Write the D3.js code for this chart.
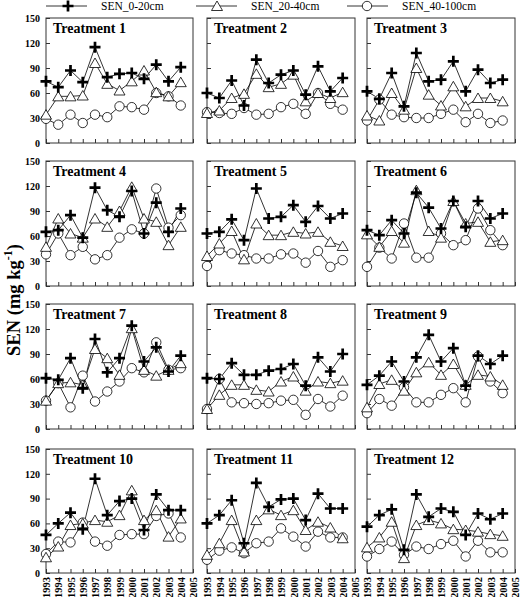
<!DOCTYPE html>
<html><head><meta charset="utf-8">
<script src="https://cdn.jsdelivr.net/npm/d3@7"></script>
<style>
html,body{margin:0;padding:0;background:#fff;}
svg{display:block;font-family:"Liberation Serif","Times New Roman",serif;}
</style></head>
<body>
<svg id="chart" width="520" height="597"></svg>
<script>
const years = [1993,1994,1995,1996,1997,1998,1999,2000,2001,2002,2003,2004];
const xTickLabels = [1993,1994,1995,1996,1997,1998,1999,2000,2001,2002,2003,2004,2005];
const yTickLabels = [0,30,60,90,120,150];
const treatments = ["Treatment 1","Treatment 2","Treatment 3","Treatment 4","Treatment 5","Treatment 6",
  "Treatment 7","Treatment 8","Treatment 9","Treatment 10","Treatment 11","Treatment 12"];
const seriesNames = ["SEN_0-20cm","SEN_20-40cm","SEN_40-100cm"];

const sen0_20 = [
  [74,67,87,73,115,79,83,84,77,94,74,91],
  [60,54,75,45,100,72,82,87,58,92,62,78],
  [62,53,84,44,108,74,76,98,62,88,72,76],
  [65,67,85,58,118,91,83,114,63,100,65,93],
  [63,65,80,55,117,81,83,97,77,96,81,87],
  [67,61,79,63,112,94,69,102,71,102,81,87],
  [61,59,85,49,108,68,85,124,81,98,69,88],
  [61,60,79,65,65,70,72,78,52,86,69,90],
  [53,64,81,57,86,113,81,97,52,88,78,88],
  [46,60,73,53,114,70,87,90,52,95,76,76],
  [60,70,88,36,109,80,89,90,64,96,78,78],
  [56,70,77,28,95,68,78,74,46,72,65,72]
];
const sen20_40 = [
  [34,56,56,57,96,71,63,74,87,61,56,73],
  [36,39,54,59,83,67,71,82,50,60,54,61],
  [33,27,60,40,90,58,45,68,44,54,54,50],
  [47,81,63,58,81,71,90,119,81,77,49,71],
  [36,51,66,32,75,61,61,65,63,65,53,48],
  [62,47,66,52,115,66,58,102,75,77,53,55],
  [34,55,56,53,96,85,65,121,71,64,71,79],
  [24,41,53,53,47,45,57,63,46,57,55,58],
  [26,54,59,46,68,80,65,78,53,65,63,53],
  [19,32,58,60,64,62,70,100,64,76,44,66],
  [22,36,64,26,64,77,70,76,52,62,55,42],
  [31,43,62,18,58,64,60,53,52,50,47,45]
];
const sen40_100 = [
  [29,22,34,24,34,31,44,43,40,60,56,45],
  [37,36,35,42,34,35,43,47,35,60,47,40],
  [27,52,34,31,30,30,35,40,25,35,24,27],
  [38,63,37,47,32,37,58,68,63,117,70,85],
  [24,43,39,37,33,33,38,39,28,42,23,31],
  [23,46,33,75,34,34,63,49,55,93,67,49],
  [34,55,26,64,33,45,57,73,68,104,71,73],
  [24,60,32,31,30,31,34,35,17,36,27,40],
  [19,36,28,50,32,32,41,49,32,87,57,43],
  [23,38,37,61,38,33,46,47,47,69,72,43],
  [16,27,31,24,36,38,54,44,32,50,43,43],
  [20,29,38,22,32,29,35,39,20,39,25,25]
];

const svg = d3.select("#chart");
const colX = [[46,193],[207,355],[367,515]];
const rowY = [[18,143],[161,286],[304,429],[449,573]];

const plusPath = "M-5.5,0H5.5M0,-5.5V5.5";
function drawMarker(g, type, x, y){
  if(type===0){
    g.append("path").attr("d",plusPath).attr("transform",`translate(${x},${y})`)
      .attr("stroke","#000").attr("stroke-width",2.7).attr("fill","none");
  } else if(type===1){
    g.append("path").attr("d","M0,-5L5.5,4.5L-5.5,4.5Z").attr("transform",`translate(${x},${y})`)
      .attr("stroke","#000").attr("stroke-width",0.8).attr("fill","#fff");
  } else {
    g.append("circle").attr("cx",x).attr("cy",y).attr("r",4.7)
      .attr("stroke","#000").attr("stroke-width",0.8).attr("fill","#fff");
  }
}

const allSeries = [sen0_20, sen20_40, sen40_100];

treatments.forEach((name,i)=>{
  const r = Math.floor(i/3), c = i%3;
  const [x0,x1] = colX[c], [y0,y1] = rowY[r];
  const x = d3.scaleLinear().domain([1993,2005]).range([x0,x1]);
  const y = d3.scaleLinear().domain([0,150]).range([y1,y0]);
  const g = svg.append("g");
  g.append("rect").attr("x",x0).attr("y",y0).attr("width",x1-x0).attr("height",y1-y0)
    .attr("fill","none").attr("stroke","#333").attr("stroke-width",1);
  const xa = d3.axisBottom(x).tickValues(xTickLabels).tickSize(-4).tickFormat(r===3?d3.format("d"):"");
  const xg = g.append("g").attr("transform",`translate(0,${y1})`).call(xa);
  xg.select(".domain").remove();
  xg.selectAll(".tick line").attr("stroke","#333");
  if(r===3){
    xg.selectAll(".tick text")
      .attr("transform","rotate(-90)")
      .attr("x",-4).attr("y",0).attr("dy","0.35em")
      .style("text-anchor","end")
      .attr("font-size",10.5).attr("font-weight","bold").attr("fill","#000")
      .attr("font-family","Liberation Serif, serif");
  }
  const ya = d3.axisLeft(y).tickValues(yTickLabels).tickSize(-4).tickFormat(c===0?d3.format("d"):"");
  const yg = g.append("g").attr("transform",`translate(${x0},0)`).call(ya);
  yg.select(".domain").remove();
  yg.selectAll(".tick line").attr("stroke","#333");
  if(c===0){
    yg.selectAll(".tick text").attr("x",-6).attr("font-size",10).attr("font-weight","bold")
      .attr("fill","#000").attr("font-family","Liberation Serif, serif");
  }
  g.append("text").attr("x",x0+7).attr("y",y0+15).text(name)
    .attr("font-size",14).attr("font-weight","bold").attr("fill","#000");
  const line = d3.line().x((d,k)=>x(years[k])).y(d=>y(d));
  [2,1,0].forEach(s=>{
    g.append("path").datum(allSeries[s][i]).attr("d",line)
      .attr("fill","none").attr("stroke","#000").attr("stroke-width",0.8);
  });
  [2,1,0].forEach(s=>{
    allSeries[s][i].forEach((v,k)=>drawMarker(g,s,x(years[k]),y(v)));
  });
});

const legend = svg.append("g");
const legItems = [{x0:46,x1:87,mx:68,tx:101},{x0:196,x1:237,mx:217,tx:251},{x0:347,x1:388,mx:367,tx:402}];
legItems.forEach((it,s)=>{
  legend.append("line").attr("x1",it.x0).attr("x2",it.x1).attr("y1",6).attr("y2",6)
    .attr("stroke","#000").attr("stroke-width",0.8);
  drawMarker(legend,s,it.mx,6);
  legend.append("text").attr("x",it.tx).attr("y",10).text(seriesNames[s])
    .attr("font-size",11.5).attr("fill","#000");
});

const yt = svg.append("text").attr("transform","translate(20,300) rotate(-90)")
  .attr("text-anchor","middle").attr("font-size",18.5).attr("font-weight","bold").attr("fill","#000");
yt.append("tspan").text("SEN (mg kg");
yt.append("tspan").text("-1").attr("font-size",12).attr("dy",-8);
yt.append("tspan").text(")").attr("dy",8);
</script>
</body></html>
